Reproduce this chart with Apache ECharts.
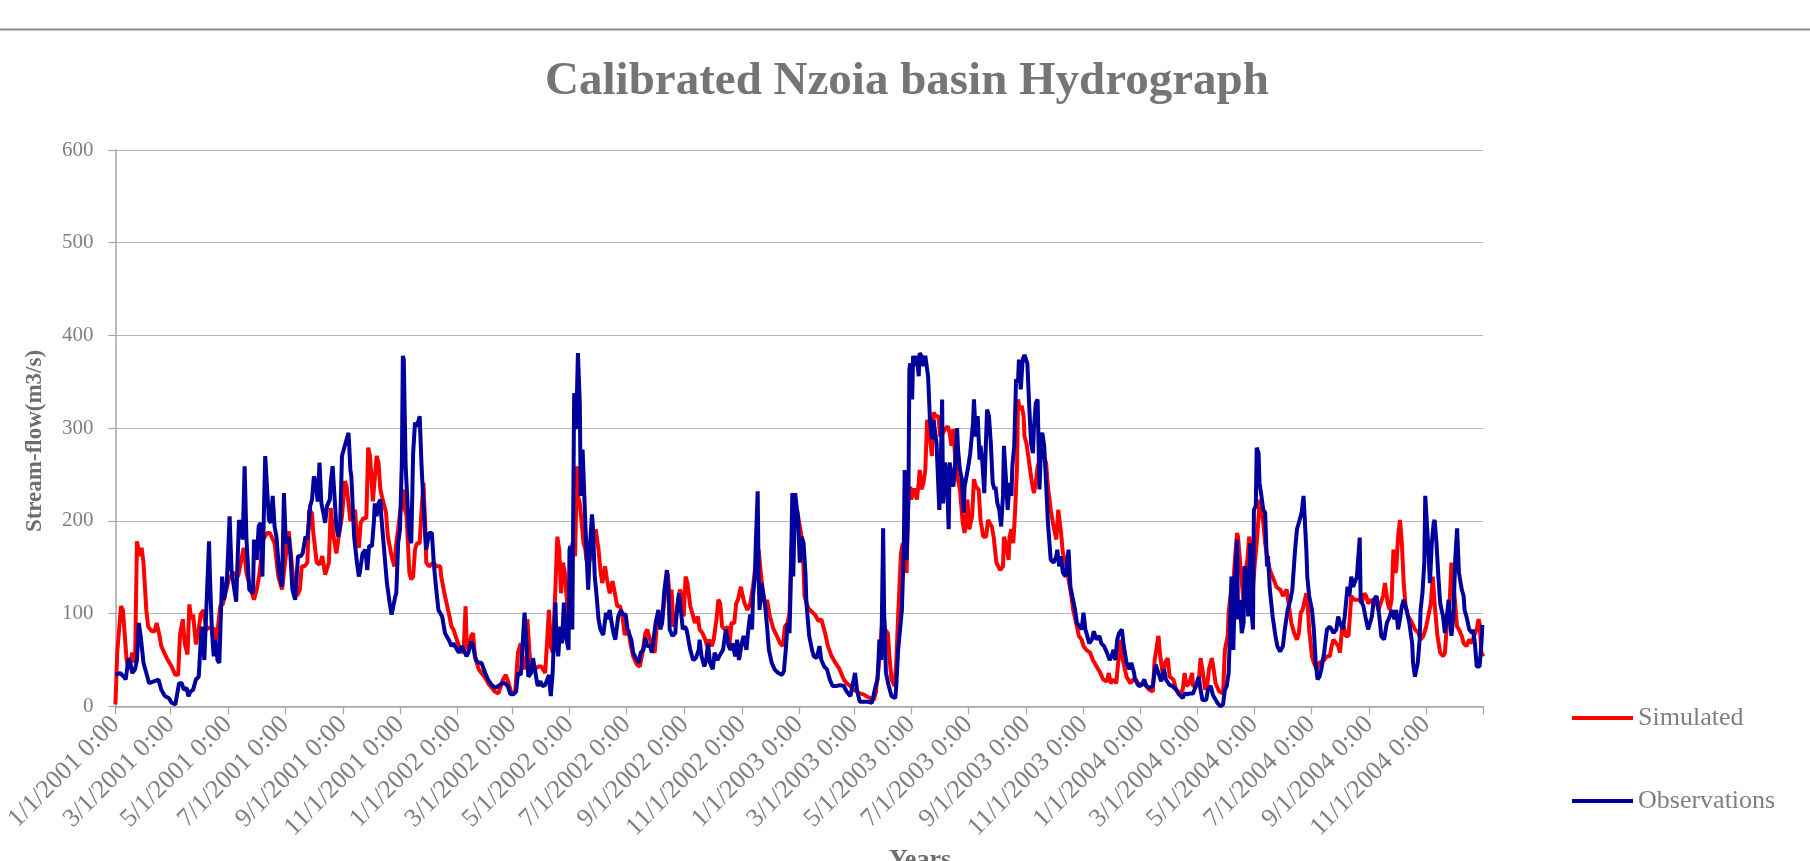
<!DOCTYPE html>
<html>
<head>
<meta charset="utf-8">
<script src="https://cdn.jsdelivr.net/npm/echarts@6/dist/echarts.min.js"></script>
<style>html,body{margin:0;padding:0;background:#fff}#chart{width:1810px;height:861px}</style>
</head>
<body>
<div id="chart"></div>
<script>
// x values are days since 1/1/2001
const startDate = [2001, 1, 1];
const tickLabels = ['1/1/2001 0:00','3/1/2001 0:00','5/1/2001 0:00','7/1/2001 0:00','9/1/2001 0:00','11/1/2001 0:00',
  '1/1/2002 0:00','3/1/2002 0:00','5/1/2002 0:00','7/1/2002 0:00','9/1/2002 0:00','11/1/2002 0:00',
  '1/1/2003 0:00','3/1/2003 0:00','5/1/2003 0:00','7/1/2003 0:00','9/1/2003 0:00','11/1/2003 0:00',
  '1/1/2004 0:00','3/1/2004 0:00','5/1/2004 0:00','7/1/2004 0:00','9/1/2004 0:00','11/1/2004 0:00'];
const axisEndLabel = '1/1/2005 0:00';
const yTicks = [0, 100, 200, 300, 400, 500, 600];

const simDays = [0,2,6,8,12,14,16,18,21,23,26,28,30,33,35,39,42,44,47,49,53,56,60,64,67,69,72,74,77,79,81,83,86,89,91,94,97,101,105,108,112,115,121,126,131,137,140,144,148,151,154,158,162,165,170,174,178,
179,185,186,190,194,197,199,202,205,207,210,211,215,218,221,224,226,228,230,233,236,238,242,245,247,251,253,256,258,260,262,265,268,270,272,275,276,279,281,283,285,289,291,295,298,300,302,305,307,309,311,314,316,318,320,322,325,327,329,331,332,335,340,343,347,348,352,356,359,
361,364,366,369,372,374,375,377,380,382,384,388,391,395,398,402,405,409,411,414,417,420,423,427,430,433,436,439,440,443,446,449,452,455,459,461,463,465,467,470,472,474,476,478,480,483,485,486,488,491,493,494,496,498,500,502,503,506,509,511,513,516,518,520,523,525,528,531,534,536,539,
542,544,548,550,553,557,560,563,566,568,571,574,576,579,582,584,587,590,592,594,596,599,601,603,605,607,609,611,614,616,619,622,624,627,630,632,634,637,639,642,644,646,648,651,654,656,658,661,663,665,668,670,672,675,678,681,684,687,689,691,694,696,699,703,706,710,713,715,718,720,
722,726,728,731,734,736,740,744,747,751,754,758,761,765,769,773,778,781,785,788,792,795,799,802,806,810,812,815,817,820,822,825,827,829,832,834,836,839,841,843,845,847,849,850,853,856,858,859,861,863,865,867,869,872,874,876,879,881,884,886,889,891,893,895,897,899,902,
905,907,910,912,915,917,919,922,924,927,930,932,936,938,941,945,948,949,951,954,955,957,959,961,963,964,966,968,970,971,973,975,977,979,981,983,985,987,989,991,994,996,999,1002,1005,1007,1010,1012,1015,1018,1020,1023,1027,1029,1032,1034,1037,1041,1044,1048,1052,1055,1059,1061,1063,1066,1069,1071,1074,1076,1080,1084,1087,
1090,1094,1097,1101,1104,1108,1110,1114,1116,1119,1121,1124,1126,1130,1133,1137,1140,1142,1144,1147,1150,1151,1154,1157,1159,1161,1164,1166,1168,1171,1173,1175,1179,1183,1185,1188,1189,1192,1194,1196,1198,1199,1202,1205,1206,1209,1211,1213,1215,1217,1219,1221,1222,1224,1226,1228,1230,1233,1237,1240,1244,1247,1251,1254,1256,1259,1262,1264,1266,1268,
1270,1272,1273,1275,1278,1280,1283,1286,1288,1291,1294,1297,1299,1301,1304,1306,1308,1310,1312,1314,1317,1319,1320,1323,1326,1329,1331,1334,1336,1338,1341,1344,1346,1349,1351,1354,1356,1359,1361,1363,1365,1367,1368,1370,1372,1374,1376,1378,1381,1385,1388,1392,1394,1397,1400,1402,1405,1407,1409,1412,1415,1418,1420,1422,1425,1427,1430,1433,1435,1438,1440,1443,1446,1449,1451,1454,1456,1457,1459,1461];
const simFlow = [2,59,108,104,50,40,47,58,47,178,162,171,155,104,86,81,81,90,77,65,56,50,43,34,34,77,94,68,56,110,94,99,67,83,99,104,83,85,84,72,108,111,137,144,140,171,144,129,115,126,144,180,187,187,176,140,126,
124,189,180,137,119,126,151,151,155,212,208,191,155,153,162,142,142,155,214,183,165,180,205,243,237,200,200,212,180,171,198,203,203,279,270,221,221,270,263,234,225,209,183,162,151,176,191,216,234,214,205,144,137,140,169,176,176,212,241,194,155,151,155,151,151,140,119,101,86,
83,74,68,58,61,108,72,61,76,79,54,40,36,31,25,20,16,14,20,29,34,25,14,16,58,68,40,50,94,47,40,41,43,43,36,68,104,65,58,129,183,169,122,155,144,104,83,122,176,162,259,227,219,198,176,169,158,155,169,180,191,169,147,133,151,137,122,135,119,108,108,
94,77,83,68,54,45,43,58,79,83,72,61,58,97,97,94,119,144,115,126,86,94,115,126,119,97,140,133,108,101,90,97,83,79,72,65,72,65,72,94,115,111,86,83,86,68,90,90,111,115,129,119,111,104,111,129,155,169,147,129,108,115,97,83,77,68,65,86,90,101,
169,205,212,194,176,119,106,102,99,92,94,79,65,54,47,41,29,25,22,18,16,14,13,11,9,7,14,40,65,104,83,79,50,29,22,47,97,165,176,155,144,230,237,223,235,223,241,255,234,241,255,309,302,270,317,313,313,291,295,299,302,295,281,299,266,248,234,
198,187,223,191,205,245,237,234,201,183,183,201,194,183,155,147,151,183,176,158,183,191,176,212,259,331,320,324,313,291,284,270,255,241,230,241,259,266,277,270,263,237,212,194,180,212,187,165,155,137,126,104,86,76,72,65,61,58,50,43,36,29,27,36,25,29,25,47,72,50,32,25,29,
29,22,25,22,18,16,50,76,54,32,47,52,32,29,18,14,18,36,22,25,36,22,22,25,52,40,18,22,40,52,40,25,16,14,61,76,101,129,133,162,187,183,147,112,140,158,183,176,129,155,176,205,223,212,198,176,162,147,137,129,126,119,126,104,90,79,72,79,101,104,
104,122,115,83,54,47,40,47,47,50,54,54,65,72,68,65,58,83,86,76,76,104,119,115,115,115,111,122,119,111,115,111,115,104,104,119,133,111,104,115,169,144,147,183,201,176,133,108,97,90,83,79,72,76,86,86,111,140,111,76,58,54,58,86,111,155,122,86,83,76,68,65,72,68,76,83,94,90,58,54];

const obsDays = [0,5,9,11,14,16,18,21,23,25,27,30,33,36,41,46,49,53,57,60,64,65,68,71,73,76,78,80,83,86,89,92,95,97,100,101,103,105,107,109,111,114,116,119,122,124,127,129,132,134,136,138,140,143,147,148,151,153,155,157,160,162,164,166,168,170,172,175,178,
180,182,185,187,189,192,194,195,198,200,203,205,208,210,212,214,216,218,220,222,224,226,229,230,232,234,236,238,240,242,245,247,249,251,252,255,258,260,261,264,267,269,271,274,276,277,279,281,283,284,287,290,293,295,297,299,300,302,304,306,307,308,310,312,314,316,318,320,322,324,325,327,329,331,332,335,338,340,342,345,349,352,356,359,
361,365,367,370,372,375,377,380,382,385,388,391,395,398,402,406,409,413,416,419,422,425,428,430,433,435,437,439,441,444,446,448,451,454,456,459,461,463,465,467,470,471,473,475,477,479,481,484,485,486,488,490,492,493,494,496,497,499,501,503,505,507,509,510,512,514,516,518,521,524,525,528,530,532,534,537,540,
542,545,547,549,551,553,556,559,561,564,566,568,571,573,575,577,580,582,584,586,589,591,592,595,598,599,602,604,606,608,610,612,614,617,620,623,624,626,629,631,633,635,638,640,643,646,649,652,655,657,659,662,664,666,669,671,674,676,678,680,681,683,684,686,687,688,690,692,694,696,698,701,704,708,712,714,716,718,720,
721,723,724,726,728,729,731,733,735,737,738,741,744,746,749,752,754,757,760,763,766,770,774,778,781,785,787,790,792,795,799,804,808,810,812,814,816,818,820,821,823,826,829,833,834,836,838,840,842,843,845,847,848,849,851,852,854,856,858,859,861,863,865,867,868,870,872,874,875,877,880,881,883,884,886,888,890,891,893,895,897,899,900,902,
904,906,907,909,911,913,916,917,919,921,923,924,926,928,930,931,933,935,937,939,940,942,944,946,948,949,951,953,955,957,958,960,962,964,965,967,969,971,973,974,976,978,980,981,983,985,987,989,990,992,994,996,999,1002,1005,1006,1008,1010,1012,1015,1018,1020,1022,1025,1027,1030,1032,1034,1036,1038,1040,1043,1045,1048,1051,1053,1056,1059,1062,1064,1066,1068,1070,1072,1075,1077,1080,1083,1085,1088,
1089,1093,1096,1099,1101,1105,1108,1111,1114,1117,1120,1122,1126,1129,1133,1136,1140,1142,1145,1148,1151,1154,1157,1159,1161,1165,1167,1170,1172,1174,1177,1180,1183,1185,1187,1189,1190,1192,1194,1196,1198,1199,1201,1203,1205,1206,1208,1210,1212,1213,1215,1216,1218,1219,1221,1222,1224,1226,1228,1230,1231,1233,1236,1239,1241,1244,1247,1249,1252,1255,1257,1260,1262,1264,1267,1269,
1272,1273,1275,1278,1280,1282,1284,1286,1288,1291,1294,1297,1299,1301,1304,1306,1308,1311,1313,1316,1318,1320,1322,1324,1326,1329,1330,1333,1335,1338,1340,1342,1344,1347,1350,1352,1355,1358,1361,1363,1366,1368,1370,1372,1374,1376,1379,1382,1385,1386,1388,1391,1393,1394,1396,1398,1399,1401,1402,1404,1406,1408,1409,1411,1413,1415,1418,1420,1422,1424,1425,1427,1429,1431,1433,1434,1435,1438,1440,1441,1443,1446,1449,1450,1452,1454,1457,1459,1460];
const obsFlow = [34,36,32,29,52,47,36,40,50,90,76,47,36,25,27,29,18,11,9,4,2,4,25,25,18,20,11,16,18,29,32,86,50,49,178,140,83,54,72,50,47,140,115,133,205,147,126,113,201,194,180,259,180,126,122,180,158,194,198,140,270,270,201,198,227,194,183,144,129,
230,176,183,162,126,115,115,162,162,165,183,180,216,223,248,241,221,263,219,209,198,216,223,241,259,227,194,183,194,270,281,282,295,255,248,183,155,140,144,165,169,147,173,173,198,219,205,219,223,205,169,133,111,99,101,119,122,176,191,266,378,374,259,219,183,176,273,306,302,309,313,259,219,183,169,187,187,155,133,104,97,79,72,65,
68,61,58,65,61,54,58,70,65,50,47,47,36,29,23,20,22,25,25,22,13,13,16,36,34,68,101,68,32,36,52,40,22,27,22,23,22,34,11,36,112,72,54,86,68,112,76,61,169,173,83,338,299,338,381,327,227,277,223,169,126,176,207,194,140,119,94,83,77,101,94,104,90,79,72,97,104,
99,99,83,83,72,58,52,47,58,61,74,65,65,58,58,90,104,83,90,122,147,119,83,76,79,97,122,104,83,86,83,72,61,50,52,61,72,54,43,50,68,47,40,58,50,56,61,83,65,61,68,54,72,50,68,76,61,83,99,83,119,140,176,232,140,104,133,133,108,86,61,47,40,36,34,38,61,90,79,
119,230,140,230,212,205,155,183,176,144,112,76,61,54,52,65,50,43,40,29,22,22,23,22,16,11,9,36,18,5,5,5,4,2,22,29,72,50,192,104,36,22,11,9,22,61,61,104,169,255,158,223,363,370,331,378,367,378,356,381,378,367,378,378,356,309,288,309,299,284,212,234,331,219,263,248,191,263,263,237,263,300,277,255,
245,209,237,248,259,273,306,331,291,313,266,281,263,230,291,320,313,284,241,234,237,219,212,194,227,281,248,212,241,227,259,281,353,349,374,342,374,379,378,370,324,284,273,299,327,331,234,291,295,281,241,198,158,155,162,169,151,162,144,140,169,129,119,104,90,86,83,101,83,76,68,72,81,72,76,68,65,58,50,54,61,50,72,79,83,65,47,40,47,36,
29,22,23,29,22,20,22,45,36,27,40,29,23,22,18,13,9,14,13,14,14,22,32,18,7,7,18,22,13,9,4,0,2,18,22,36,65,140,61,140,180,94,115,79,90,151,144,97,176,108,83,212,216,279,273,241,227,212,209,151,162,126,97,76,65,59,65,83,104,115,126,169,191,198,209,227,
169,140,119,104,83,47,29,32,40,58,83,86,83,79,83,97,90,83,97,129,119,140,129,129,140,182,115,108,97,83,83,97,115,119,97,76,72,90,97,104,94,104,83,94,108,115,104,90,68,47,32,47,72,104,122,155,227,227,176,133,176,198,201,176,140,111,97,79,97,115,97,76,97,158,192,190,144,126,119,104,97,83,79,83,68,43,43,68,88];

const DAY = 86400000;
const t0 = Date.UTC(startDate[0], startDate[1] - 1, startDate[2]);
function labelToDay(lbl) {
  const p = lbl.split(' ')[0].split('/').map(Number);
  return Math.round((Date.UTC(p[2], p[0] - 1, p[1]) - t0) / DAY);
}
const tickDays = tickLabels.map(labelToDay);
const endDay = labelToDay(axisEndLabel);
const labelMap = {};
tickDays.forEach((d, i) => { labelMap[d] = tickLabels[i]; });

const simData = simDays.map((d, i) => [d, simFlow[i]]);
const obsData = obsDays.map((d, i) => [d, obsFlow[i]]);

const FONT = '"Liberation Serif", "DejaVu Serif", serif';
const GREY = '#7f7f7f';
const AXIS = '#a6a6a6';

const chart = echarts.init(document.getElementById('chart'), null, { renderer: 'canvas' });
chart.setOption({
  animation: false,
  backgroundColor: '#ffffff',
  title: {
    text: 'Calibrated Nzoia basin Hydrograph',
    left: 902, top: 53, textAlign: 'center',
    textStyle: { fontFamily: FONT, fontSize: 47, fontWeight: 'bold', color: '#777474' }
  },
  legend: {
    data: ['Simulated', 'Observations'],
    orient: 'vertical', left: 1572, top: 705, itemGap: 57, padding: 0,
    icon: 'rect', itemWidth: 61, itemHeight: 4,
    textStyle: { fontFamily: FONT, fontSize: 26, color: GREY }
  },
  grid: { left: 115.4, right: 326.7, top: 150, bottom: 154.6, containLabel: false },
  xAxis: {
    type: 'value', min: 0, max: endDay,
    axisLine: { show: true, lineStyle: { color: AXIS, width: 1.5 } },
    axisTick: { show: true, length: 8, lineStyle: { color: AXIS, width: 1.2 }, customValues: tickDays.concat([endDay]) },
    axisLabel: {
      customValues: tickDays, rotate: 45, margin: 14,
      fontFamily: FONT, fontSize: 26, color: GREY,
      formatter: v => labelMap[Math.round(v)] || ''
    },
    splitLine: { show: false }
  },
  yAxis: {
    type: 'value', min: yTicks[0], max: yTicks[yTicks.length - 1], interval: 100,
    axisLine: { show: true, lineStyle: { color: AXIS, width: 1.5 } },
    axisTick: { show: true, length: 7, lineStyle: { color: AXIS, width: 1.2 } },
    axisLabel: { margin: 22, fontFamily: FONT, fontSize: 21, color: GREY },
    splitLine: { show: true, lineStyle: { color: '#b7b7b7', width: 1.2 } }
  },
  graphic: [
    { type: 'line', shape: { x1: 0, y1: 29.5, x2: 1810, y2: 29.5 }, style: { stroke: '#8a8a8a', lineWidth: 2 } },
    { type: 'text', x: 35, y: 441, rotation: Math.PI / 2,
      style: { text: 'Stream-flow(m3/s)', font: 'bold 23px ' + FONT, fill: '#6e6e6e', align: 'center', verticalAlign: 'middle' } },
    { type: 'text', x: 920, y: 847,
      style: { text: 'Years', font: 'bold 26px ' + FONT, fill: '#6e6e6e', align: 'center', verticalAlign: 'top' } }
  ],
  series: [
    { name: 'Simulated', type: 'line', data: simData, showSymbol: false, symbol: 'none',
      lineStyle: { color: '#ff0000', width: 4 }, itemStyle: { color: '#ff0000' }, z: 2 },
    { name: 'Observations', type: 'line', data: obsData, showSymbol: false, symbol: 'none',
      lineStyle: { color: '#00009c', width: 4 }, itemStyle: { color: '#00009c' }, z: 3 }
  ]
});
</script>
</body>
</html>
